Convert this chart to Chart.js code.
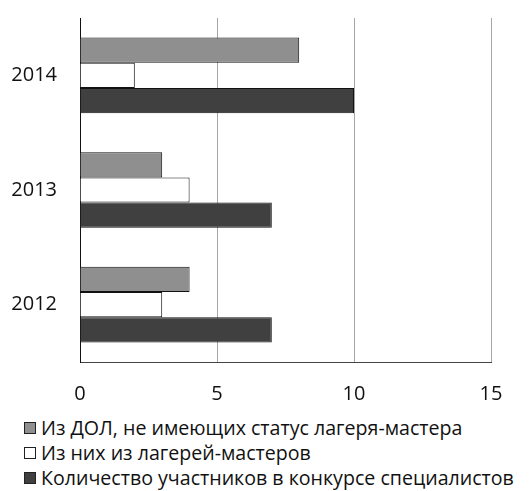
<!DOCTYPE html>
<html>
<head>
<meta charset="utf-8">
<script src="https://cdn.jsdelivr.net/npm/chart.js@4"></script>
<style>
    body { margin: 0; background: #fff; font-family: 'Open Sans', sans-serif; overflow: hidden; }
    #wrap { position: absolute; left: 0; top: -17px; width: 530px; height: 427px; }
    #legend { position: absolute; left: 24px; top: 415px; font-size: 19.6px; color: #111; }
    .item { height: 25px; line-height: 25px; white-space: nowrap; display: flex; align-items: center; }
    .box { width: 10px; height: 10px; border: 1px solid #222; margin-right: 5px; }
</style>
</head>
<body>
<div id="wrap"><canvas id="chart"></canvas></div>
<div id="legend"></div>
<script>
document.addEventListener('DOMContentLoaded', () => {

    const years = ['2014', '2013', '2012'];
    const seriesNames = [
        'Из ДОЛ, не имеющих статус лагеря-мастера',
        'Из них из лагерей-мастеров',
        'Количество участников в конкурсе специалистов',
    ];
    const notMaster = [8, 3, 4];
    const fromMaster = [2, 4, 3];
    const participants = [10, 7, 7];
    const xTicks = [0, 5, 10, 15];

    const colors = ['#8f8f8f', '#ffffff', '#404040'];
    const values = [notMaster, fromMaster, participants];

    new Chart(document.getElementById('chart'), {
        type: 'bar',
        data: {
            labels: years,
            datasets: values.map((v, i) => ({
                label: seriesNames[i],
                data: v,
                backgroundColor: colors[i],
                borderColor: '#111',
                borderWidth: 1,
                categoryPercentage: 0.66,
                barPercentage: 1,
            })),
        },
        options: {
            indexAxis: 'y',
            responsive: true,
            maintainAspectRatio: false,
            animation: false,
            events: [],
            layout: { padding: { top: 0, right: 39, left: 0, bottom: 0 } },
            plugins: {
                legend: { display: false },
                tooltip: { enabled: false },
            },
            scales: {
                x: {
                    min: 0,
                    max: 15,
                    afterBuildTicks: scale => { scale.ticks = xTicks.map(v => ({ value: v })); },
                    afterFit: scale => { scale.height = 48; },
                    grid: { color: '#a6a6a6', drawTicks: false },
                    border: { color: '#444' },
                    ticks: { padding: 20, color: '#111', font: { family: 'Open Sans', size: 20 } },
                },
                y: {
                    afterFit: scale => { scale.width = 80; },
                    grid: { display: false, drawTicks: false },
                    border: { color: '#111' },
                    ticks: { padding: 23, color: '#111', font: { family: 'Open Sans', size: 20 } },
                },
            },
        },
    });

    // Legend below the chart, left aligned.
    document.getElementById('legend').innerHTML = seriesNames.map((name, i) =>
        `<div class="item"><span class="box" style="background:${colors[i]}"></span>${name}</div>`).join('');

});
</script>
</body>
</html>
